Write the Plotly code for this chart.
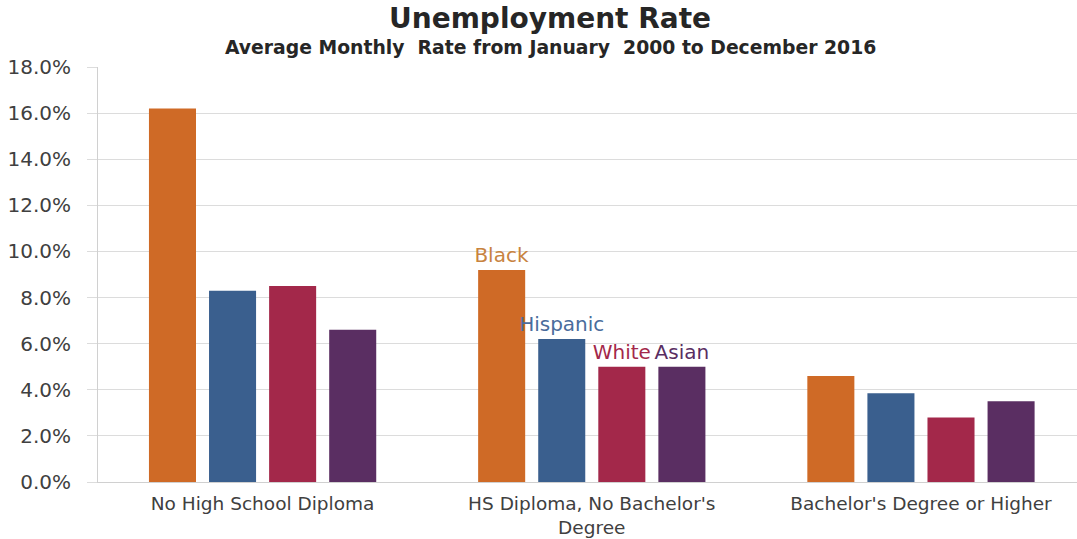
import plotly.graph_objects as go

categories = ["No High School Diploma", "HS Diploma, No Bachelor's<br>Degree", "Bachelor's Degree or Higher"]
series_names = ["Black", "Hispanic", "White", "Asian"]
black = [16.2, 9.2, 4.6]
hispanic = [8.3, 6.2, 3.85]
white = [8.5, 5.0, 2.8]
asian = [6.6, 5.0, 3.5]
labeled_group = 1  # series names shown above bars of the middle group

bar_colors = ["#CF6A26", "#3A5F8E", "#A3284A", "#5A2E62"]
label_colors = ["#C8833F", "#4A6C9C", "#A3284A", "#5A2E62"]

fig = go.Figure()
for name, vals, col, lcol in zip(series_names, [black, hispanic, white, asian], bar_colors, label_colors):
    texts = [name if i == labeled_group else "" for i in range(len(vals))]
    fig.add_trace(go.Bar(
        x=categories, y=[v / 100 for v in vals], name=name,
        marker=dict(color=col, line=dict(width=0)),
        text=texts, textposition="outside", textangle=0, constraintext="none",
        cliponaxis=False,
        textfont=dict(family="DejaVu Sans", size=20, color=lcol),
        hoverinfo="x+y+name",
    ))

fig.update_layout(
    width=1077, height=539,
    barmode="group", bargap=0.27, bargroupgap=0.217,
    showlegend=False,
    paper_bgcolor="white", plot_bgcolor="white",
    margin=dict(l=98, r=0, t=67, b=57),
    font=dict(family="DejaVu Sans", color="#404040"),
)
fig.update_yaxes(
    range=[0, 0.18], dtick=0.02, tickformat=".1%",
    showgrid=True, gridcolor="#DCDCDC", gridwidth=1,
    showline=True, linecolor="#D0D0D0", linewidth=1,
    ticks="outside", ticklen=10, tickcolor="#DCDCDC",
    tickfont=dict(family="DejaVu Sans", size=20, color="#404040"),
    ticklabelstandoff=12,
    zeroline=False, automargin=False,
)
fig.update_xaxes(
    range=[-0.5, 2.474],
    showline=True, linecolor="#D0D0D0", linewidth=1,
    ticks="", tickfont=dict(family="DejaVu Sans", size=18.5, color="#404040"),
    ticklabelstandoff=5,
    automargin=False,
)
fig.add_annotation(text="<b>Unemployment Rate</b>", xref="paper", yref="paper",
                   x=0.462, y=1.116, showarrow=False, xanchor="center", yanchor="middle",
                   font=dict(family="DejaVu Sans", size=28, color="#262626"))
fig.add_annotation(text="<b>Average Monthly  Rate from January  2000 to December 2016</b>",
                   xref="paper", yref="paper", x=0.462, y=1.048, showarrow=False,
                   xanchor="center", yanchor="middle",
                   font=dict(family="DejaVu Sans", size=18.8, color="#262626"))

fig.write_html("out.html", config={"displayModeBar": False},
               post_script="document.body.style.margin='0px';")
